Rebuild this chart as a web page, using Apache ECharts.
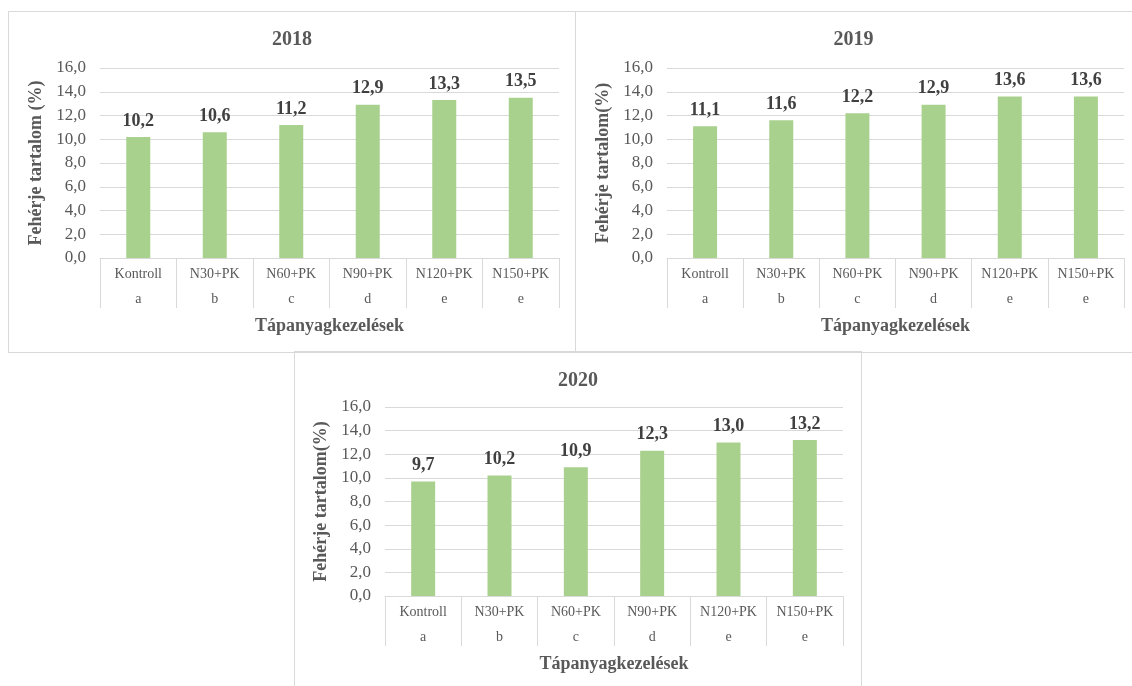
<!DOCTYPE html>
<html>
<head>
<meta charset="utf-8">
<script src="https://cdn.jsdelivr.net/npm/echarts@6/dist/echarts.min.js"></script>
<style>
  html, body { margin: 0; padding: 0; background: #ffffff; width: 1132px; height: 686px; overflow: hidden; }
  .chart { position: absolute; }
  .frame { position: absolute; border: 1px solid #d9d9d9; box-sizing: border-box; pointer-events: none; }
</style>
</head>
<body>
<div class="frame" style="left:8px; top:11px; width:568px; height:342px;"></div>
<div class="frame" style="left:575px; top:11px; width:570px; height:342px;"></div>
<div class="frame" style="left:294px; top:351px; width:568px; height:350px;"></div>
<div id="c2018" class="chart" style="left:8px; top:11px; width:568px; height:342px;"></div>
<div id="c2019" class="chart" style="left:575px; top:11px; width:557px; height:342px;"></div>
<div id="c2020" class="chart" style="left:294px; top:351px; width:568px; height:335px;"></div>
<script>
// Treatments and their significance groups
const treatments = ['Kontroll', 'N30+PK', 'N60+PK', 'N90+PK', 'N120+PK', 'N150+PK'];
const groups = ['a', 'b', 'c', 'd', 'e', 'e'];

// Protein content (%) per year
const protein2018 = [10.2, 10.6, 11.2, 12.9, 13.3, 13.5];
const protein2019 = [11.1, 11.6, 12.2, 12.9, 13.6, 13.6];
const protein2020 = [9.7, 10.2, 10.9, 12.3, 13.0, 13.2];

const yTicks = { min: 0, max: 16, interval: 2 };

const FONT = '"Liberation Serif", "Times New Roman", serif';
const fmt = v => Number(v).toFixed(1).replace('.', ',');

function panelOption(year, values, yName, grid) {
  return {
    animation: false,
    textStyle: { fontFamily: FONT },
    title: {
      text: year,
      left: 'center',
      top: grid.titleTop,
      textStyle: { fontFamily: FONT, fontSize: 20, fontWeight: 'bold', color: '#595959' }
    },
    grid: { left: grid.left, right: grid.right, top: grid.top, bottom: grid.bottom },
    xAxis: {
      type: 'category',
      data: treatments.map((t, i) => t + '\n' + groups[i]),
      name: 'Tápanyagkezelések',
      nameLocation: 'middle',
      nameGap: 56,
      nameTextStyle: { fontFamily: FONT, fontSize: 18, fontWeight: 'bold', color: '#595959' },
      axisLine: { lineStyle: { color: '#d9d9d9', width: 1 } },
      axisTick: { show: true, interval: 0, length: 50, lineStyle: { color: '#d9d9d9' } },
      axisLabel: { interval: 0, margin: 4, lineHeight: 25, fontFamily: FONT, fontSize: 14, color: '#595959' }
    },
    yAxis: {
      type: 'value',
      min: yTicks.min,
      max: yTicks.max,
      interval: yTicks.interval,
      name: yName,
      nameLocation: 'middle',
      nameGap: 46,
      nameTextStyle: { fontFamily: FONT, fontSize: 18, fontWeight: 'bold', color: '#595959' },
      axisLine: { show: false },
      axisTick: { show: false },
      splitLine: { lineStyle: { color: '#d9d9d9', width: 1 } },
      axisLabel: { margin: 14, fontFamily: FONT, fontSize: 17, color: '#595959', formatter: fmt }
    },
    series: [{
      type: 'bar',
      data: values,
      barWidth: 24,
      itemStyle: { color: '#a9d18e' },
      label: {
        show: true,
        position: 'top',
        distance: 7,
        fontFamily: FONT,
        fontSize: 18,
        fontWeight: 'bold',
        color: '#404040',
        formatter: p => fmt(p.value)
      }
    }]
  };
}

echarts.init(document.getElementById('c2018')).setOption(
  panelOption('2018', protein2018, 'Fehérje tartalom (%)', { left: 92, right: 17, top: 57, bottom: 95, titleTop: 14 })
);
echarts.init(document.getElementById('c2019')).setOption(
  panelOption('2019', protein2019, 'Fehérje tartalom(%)', { left: 92, right: 8, top: 57, bottom: 95, titleTop: 14 })
);
echarts.init(document.getElementById('c2020')).setOption(
  panelOption('2020', protein2020, 'Fehérje tartalom(%)', { left: 91, right: 19, top: 56, bottom: 90, titleTop: 15 })
);
</script>
</body>
</html>
